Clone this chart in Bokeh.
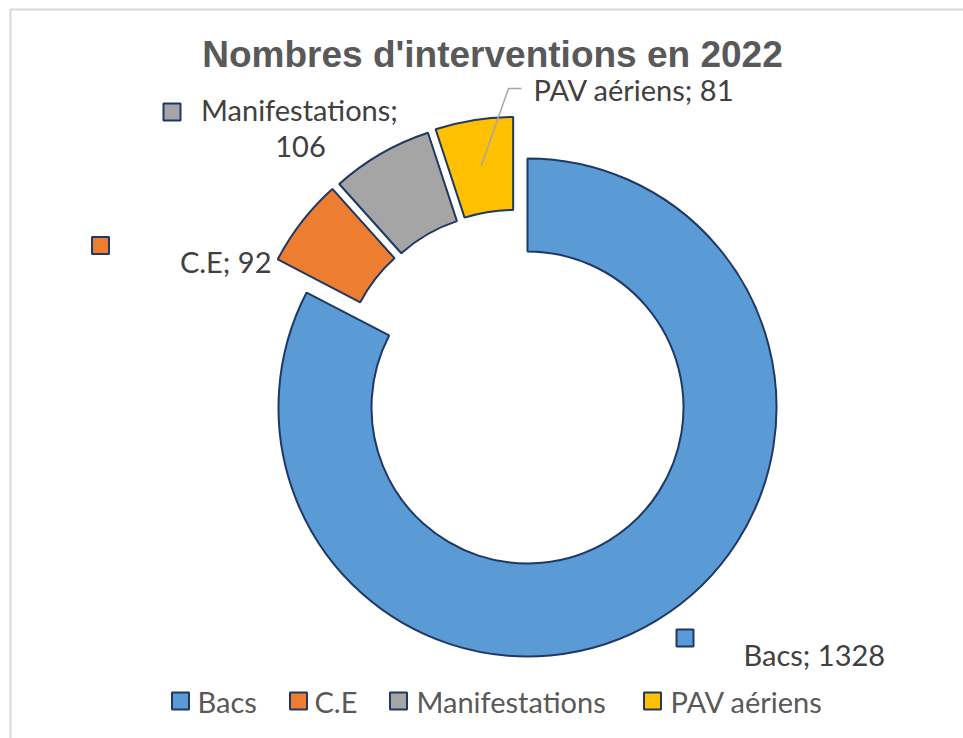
import math
from bokeh.plotting import figure
from bokeh.models import Range1d, ColumnDataSource
from bokeh.core.properties import value
from bokeh.embed import file_html
from bokeh.resources import INLINE

# ---------------- data ----------------
categories = ["Bacs", "C.E", "Manifestations", "PAV aériens"]
counts = [1328, 92, 106, 81]
title_text = "Nombres d'interventions en 2022"

# ---------------- styles / layout ----------------
colors = ["#5B9BD5", "#ED7D31", "#A5A5A5", "#FFC000"]
edge = "#1F3864"
label_font = "Lato"
W, H = 963, 738
TXT_DY = -9  # baseline correction for text rendering

def Y(py):
    # image pixel y -> data y
    return H - py

CX, CY = 527, Y(407)
R_OUT, R_IN = 249, 156
explode_dist = {"Bacs": 0, "C.E": 44, "Manifestations": 44, "PAV aériens": 44}
explode_dir = {"Bacs": 0, "C.E": 131, "Manifestations": 120, "PAV aériens": 109}

p = figure(width=W, height=H, x_range=Range1d(0, W), y_range=Range1d(0, H),
           output_backend="svg", toolbar_location=None, min_border=0)
p.axis.visible = False
p.grid.visible = False
p.outline_line_color = None
p.background_fill_color = "white"
p.border_fill_color = "white"

# chart-area border (right/bottom edges fall outside view)
p.quad(left=[10], right=[1300], top=[Y(9)], bottom=[-300], fill_color=None,
       line_color="#D9D9D9", line_width=2)

# title
p.text(x=[492], y=[Y(63 + TXT_DY)], text=[title_text], text_font=value("Liberation Sans"),
       text_font_style="bold", text_font_size="37px", text_color="#595959",
       text_align="center", text_baseline="alphabetic")

# donut slices
total = sum(counts)
starts, ends, xs, ys, mids = [], [], [], [], []
cum = 0
for cat, c in zip(categories, counts):
    a0 = math.pi / 2 - 2 * math.pi * cum / total
    a1 = math.pi / 2 - 2 * math.pi * (cum + c) / total
    cum += c
    d = explode_dist[cat]
    t = math.radians(explode_dir[cat])
    starts.append(a0)
    ends.append(a1)
    xs.append(CX + d * math.cos(t))
    ys.append(CY + d * math.sin(t))
    mids.append((a0 + a1) / 2)

src = ColumnDataSource(dict(x=xs, y=ys, s=starts, e=ends, color=colors, cat=categories))
p.annular_wedge(x="x", y="y", inner_radius=R_IN, outer_radius=R_OUT,
                start_angle="s", end_angle="e", direction="clock",
                fill_color="color", line_color=edge, line_width=2, source=src)

# data labels
lbl_color = "#404040"
def key(xc, yc, col):
    p.rect(x=[xc], y=[Y(yc)], width=17, height=17, fill_color=col,
           line_color=edge, line_width=2)

def txt(x, y, s, align="left", color=lbl_color, size="29px"):
    p.text(x=[x], y=[Y(y + TXT_DY)], text=[s], text_font=value(label_font),
           text_font_size=size, text_color=color, text_align=align,
           text_baseline="alphabetic")

# Bacs
key(684.5, 637.5, colors[0])
txt(743, 663, f"{categories[0]}; {counts[0]}")
# C.E
key(100, 245, colors[1])
txt(271, 270, f"{categories[1]}; {counts[1]}", align="right")
# Manifestations
key(171.5, 111.5, colors[2])
txt(299, 118, f"{categories[2]};", align="center")
txt(300, 155, f"{counts[2]}", align="center")
# PAV aériens with leader line
i = 3
rm = (R_IN + R_OUT) / 2
ax = xs[i] + rm * math.cos(mids[i])
ay = ys[i] + rm * math.sin(mids[i])
p.line(x=[521, 508, ax], y=[Y(88), Y(88), ay], line_color="#A6A6A6", line_width=1.5)
txt(533, 98, f"{categories[3]}; {counts[3]}")

# legend
leg_key_x = [180, 298, 398, 652]
leg_txt_x = [197, 314, 416, 670]
for cat, col, kx, tx in zip(categories, colors, leg_key_x, leg_txt_x):
    key(kx, 700.5, col)
    txt(tx, 710, cat, color="#595959")

open("out.html", "w").write(file_html(p, INLINE))
